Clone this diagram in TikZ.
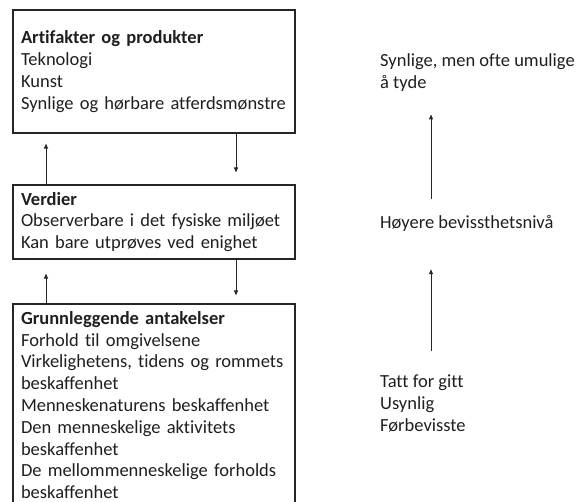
\documentclass[tikz,border=0pt]{standalone}
\usepackage{fontspec}
\setmainfont{Carlito}[Ligatures=NoCommon]
\usetikzlibrary{arrows.meta}
\begin{document}
\begin{tikzpicture}[x=1pt,y=1pt,
  layerbox/.style={draw=black!85,line width=1.1pt,align=left,text width=266pt,
    inner xsep=8pt,inner ysep=0pt,minimum width=282pt,text=black!88,
    font=\fontsize{18.5}{21.8}\selectfont},
  sidetext/.style={align=left,anchor=west,inner sep=0pt,text=black!88,
    font=\fontsize{18.5}{21.6}\selectfont},
  arr/.style={-{Triangle[length=5pt,width=4pt]},line width=0.9pt,draw=black!85}]
\useasboundingbox (0,0) rectangle (578,-502);
% the three layers
\node[layerbox,minimum height=123pt] (art) at (154,-71.5)
  {\textbf{Artifakter og produkter}\\Teknologi\\Kunst\\\mbox{Synlige og hørbare atferdsmønstre}\\[4pt]};
\node[layerbox,minimum height=74pt] (ver) at (154,-222)
  {\textbf{Verdier}\\Observerbare i det fysiske miljøet\\Kan bare utprøves ved enighet};
\node[layerbox,minimum height=202pt] (gru) at (154,-405)
  {\textbf{Grunnleggende antakelser}\\Forhold til omgivelsene\\Virkelighetens, tidens og rommets\\beskaffenhet\\Menneskenaturens beskaffenhet\\Den menneskelige aktivitets\\beskaffenhet\\De mellommenneskelige forholds\\beskaffenhet};
% vertical positions of the connectors
\coordinate (lx) at (46,0);
\coordinate (rx) at (236,0);
\draw[arr] (ver.north -| lx) -- ([yshift=-10pt]art.south -| lx);
\draw[arr] (art.south -| rx) -- ([yshift=12pt]ver.north -| rx);
\draw[arr] (gru.north -| lx) -- ([yshift=-14pt]ver.south -| lx);
\draw[arr] (ver.south -| rx) -- ([yshift=8pt]gru.north -| rx);
% visibility scale
\node[sidetext] (syn) at (380,-72.5) {Synlige, men ofte umulige\\å tyde};
\node[sidetext] (hoy) at (380,-223) {Høyere bevissthetsnivå};
\node[sidetext] (tatt) at (380,-403.5) {Tatt for gitt\\Usynlig\\Førbevisste};
\coordinate (sx) at (431,0);
\draw[arr] (hoy.north -| sx) ++(0,16) -- ([yshift=-23pt]syn.south -| sx);
\draw[arr] (tatt.north -| sx) ++(0,24) -- ([yshift=-38pt]hoy.south -| sx);
\end{tikzpicture}
\end{document}
